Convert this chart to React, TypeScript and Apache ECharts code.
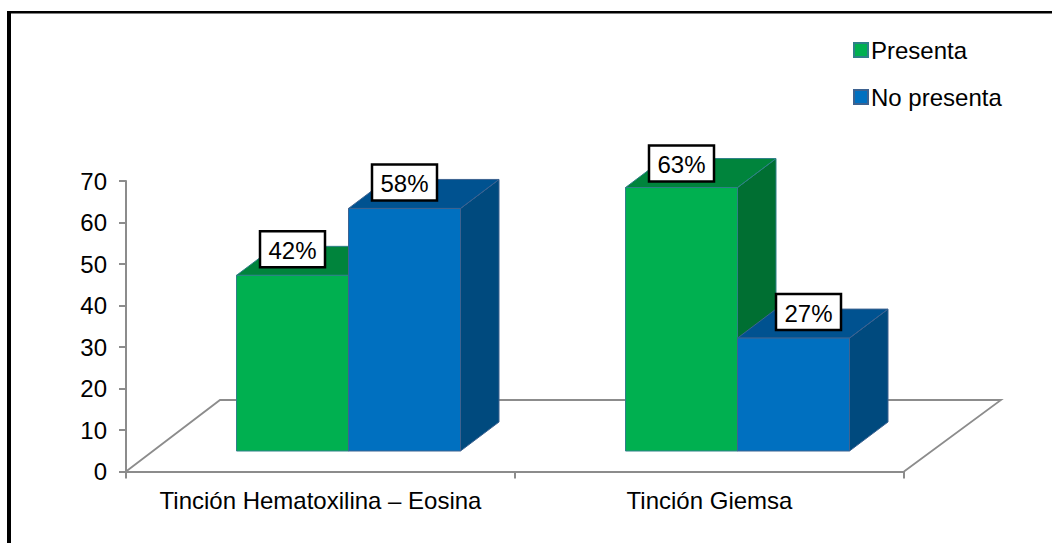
import React, { useEffect, useRef } from "react";
import * as echarts from "echarts";

const categories = ["Tinción Hematoxilina – Eosina", "Tinción Giemsa"];
const presentaValues = [42, 63];
const noPresentaValues = [58, 27];
const presentaLabels = ["42%", "63%"];
const noPresentaLabels = ["58%", "27%"];
const yTicks = { min: 0, max: 70, interval: 10 };

const FONT = "Liberation Sans, Arial, sans-serif";
const AXIS_COLOR = "#8C8C8C";

type Palette = { front: string; top: string; side: string; edge: string };
const GREEN: Palette = { front: "#00B050", top: "#00843C", side: "#006F32", edge: "#2F8088" };
const BLUE: Palette = { front: "#0070C0", top: "#005290", side: "#004A7E", edge: "#3D6290" };

const BAR_W = 112;
const DX = 38.5;
const DY = -29;
const BASE_LIFT = 20.5;
const Y_STRETCH = 1.0077;

function barRenderer(slot: number, palette: Palette, labels: string[], nudges: number[][]) {
  return (params: any, api: any) => {
    const i = api.value(0) as number;
    const v = api.value(1) as number;
    const zero = api.coord([i, 0]);
    const at = api.coord([i, v]);
    const x0 = zero[0] - 84 + slot * BAR_W;
    const x1 = x0 + BAR_W;
    const yB = zero[1] - BASE_LIFT;
    const yT = yB - (zero[1] - at[1]) * Y_STRETCH;
    const edge = { stroke: palette.edge, lineWidth: 1 };
    const nudge = nudges[i];
    const cx = (x0 + x1) / 2 + nudge[0];
    const cy = yT - 26 + nudge[1];
    return {
      type: "group",
      children: [
        {
          type: "polygon",
          shape: { points: [[x1, yB], [x1 + DX, yB + DY], [x1 + DX, yT + DY], [x1, yT]] },
          style: { fill: palette.side, ...edge },
        },
        {
          type: "polygon",
          shape: { points: [[x0, yT], [x0 + DX, yT + DY], [x1 + DX, yT + DY], [x1, yT]] },
          style: { fill: palette.top, ...edge },
        },
        {
          type: "rect",
          shape: { x: x0, y: yT, width: BAR_W, height: yB - yT },
          style: { fill: palette.front, ...edge },
        },
        {
          type: "rect",
          z2: 100,
          shape: { x: cx - 32.5, y: cy - 18, width: 65, height: 36 },
          style: { fill: "#FFFFFF", stroke: "#000000", lineWidth: 2.5 },
        },
        {
          type: "text",
          z2: 101,
          style: {
            text: labels[i],
            x: cx,
            y: cy + 1,
            align: "center",
            verticalAlign: "middle",
            fill: "#000000",
            fontSize: 24,
            fontFamily: FONT,
          },
        },
      ],
    };
  };
}

function floorRenderer(params: any, api: any) {
  const c = params.coordSys;
  const left = c.x;
  const right = c.x + c.width;
  const bottom = c.y + c.height;
  return {
    type: "polyline",
    shape: {
      points: [
        [left, bottom],
        [left + 94, bottom - 71.5],
        [right + 97, bottom - 71.5],
        [right, bottom],
      ],
    },
    style: { fill: "none", stroke: AXIS_COLOR, lineWidth: 1.8 },
  };
}

export default function App() {
  const ref = useRef<HTMLDivElement>(null);
  useEffect(() => {
    if (!ref.current) return;
    const chart = echarts.init(ref.current, undefined, { renderer: "svg" });
    chart.setOption({
      animation: false,
      backgroundColor: "#FFFFFF",
      textStyle: { fontFamily: FONT },
      grid: { left: 126, right: 148, top: 181, bottom: 71.5 },
      legend: {
        left: 848,
        top: 27,
        orient: "vertical",
        itemWidth: 14,
        itemHeight: 14,
        itemGap: 11,
        textStyle: { color: "#000000", fontSize: 24, fontFamily: FONT, padding: [0, 0, 8, -2], lineHeight: 28 },
        data: [
          { name: "Presenta", icon: "rect" },
          { name: "No presenta", icon: "rect" },
        ],
      },
      xAxis: {
        type: "category",
        data: categories,
        axisLine: { lineStyle: { color: AXIS_COLOR, width: 2 } },
        axisTick: { show: true, length: 7, interval: 0, alignWithLabel: false, lineStyle: { color: AXIS_COLOR, width: 2 } },
        axisLabel: { color: "#000000", fontSize: 24, fontFamily: FONT, margin: 17, interval: 0, hideOverlap: false },
        splitLine: { show: false },
      },
      yAxis: {
        type: "value",
        min: yTicks.min,
        max: yTicks.max,
        interval: yTicks.interval,
        axisLine: { show: true, lineStyle: { color: AXIS_COLOR, width: 2 } },
        axisTick: { show: true, length: 7, lineStyle: { color: AXIS_COLOR, width: 2 } },
        axisLabel: { color: "#000000", fontSize: 24, fontFamily: FONT, margin: 19 },
        splitLine: { show: false },
      },
      graphic: [
        {
          type: "rect",
          silent: true,
          shape: { x: 7, y: 11, width: 4, height: 532 },
          style: { fill: "#000000" },
        },
        {
          type: "rect",
          silent: true,
          shape: { x: 7, y: 11, width: 1045, height: 2.5 },
          style: { fill: "#000000" },
        },
      ],
      series: [
        {
          type: "custom",
          name: "floor",
          data: [[0, 0]],
          encode: { x: 0, y: 1 },
          renderItem: floorRenderer,
          silent: true,
          z: 1,
        },
        {
          type: "custom",
          name: "Presenta",
          data: presentaValues.map((v, i) => [i, v]),
          encode: { x: 0, y: 1 },
          itemStyle: { color: GREEN.front, borderColor: GREEN.edge, borderWidth: 1 },
          renderItem: barRenderer(0, GREEN, presentaLabels, [[0, 0], [0, 2]]),
          z: 2,
        },
        {
          type: "custom",
          name: "No presenta",
          data: noPresentaValues.map((v, i) => [i, v]),
          encode: { x: 0, y: 1 },
          itemStyle: { color: BLUE.front, borderColor: BLUE.edge, borderWidth: 1 },
          renderItem: barRenderer(1, BLUE, noPresentaLabels, [[0, 0], [15, 0]]),
          z: 2,
        },
      ],
    });
    return () => chart.dispose();
  }, []);
  return (
    <div
      ref={ref}
      style={{ position: "absolute", left: 0, top: 0, width: 1052, height: 543 }}
    />
  );
}
